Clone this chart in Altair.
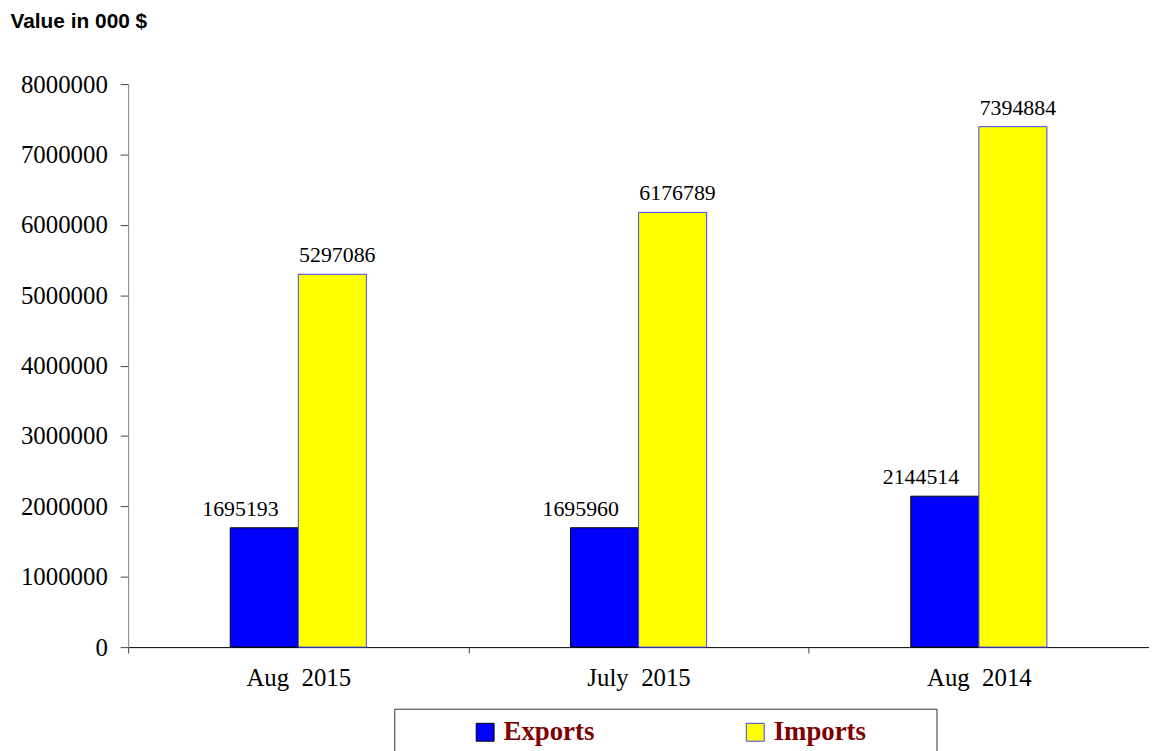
import altair as alt
import pandas as pd

categories = ["Aug 2015", "July 2015", "Aug 2014"]
series_names = ["Exports", "Imports"]
exports = [1695193, 1695960, 2144514]
imports = [5297086, 6176789, 7394884]
y_ticks = [0, 1000000, 2000000, 3000000, 4000000, 5000000, 6000000, 7000000, 8000000]

rows = []
for c, e, i in zip(categories, exports, imports):
    rows.append({"period": c, "series": "Exports", "value": e})
    rows.append({"period": c, "series": "Imports", "value": i})
df = pd.DataFrame(rows)

serif = "Liberation Serif"
sans = "Liberation Sans"

# trailing non-breaking spaces (closed by a zero-width char so they are not trimmed)
# widen the legend box on the right like the original
legend = alt.Legend(
    title=None, orient="none", legendX=268, legendY=629,
    direction="horizontal", columns=2,
    symbolType="square", symbolSize=324, symbolStrokeWidth=1, symbolStrokeColor="#000000",
    symbolOffset=68, labelOffset=5, columnPadding=80,
    labelFont=serif, labelFontSize=27, labelFontWeight="bold", labelColor="#800000",
    labelExpr="datum.label == 'Imports' ? datum.label + '" + "\u00a0" * 9 + "\u200b' : datum.label",
    padding=10, strokeColor="#333333", fillColor="white", labelLimit=400,
)

x = alt.X("period:N", sort=categories,
          scale=alt.Scale(paddingInner=0, paddingOuter=0),
          axis=alt.Axis(title=None, labelAngle=0, tickBand="extent", tickSize=6,
                        tickColor="#444444", domainColor="#000000",
                        labelFont=serif, labelFontSize=25, labelColor="#000000",
                        labelPadding=13,
                        labelExpr="replace(datum.label, ' ', '\u00a0 ')"))

y = alt.Y("value:Q",
          scale=alt.Scale(domain=[0, 8000000], nice=False),
          axis=alt.Axis(values=y_ticks, format="d", grid=False,
                        title="Value in 000 $", titleAngle=0, titleAlign="left",
                        titleBaseline="alphabetic", titleX=-119, titleY=-57,
                        titleFont=sans, titleFontSize=21, titleFontWeight="bold",
                        titleColor="#000000",
                        tickSize=8, tickColor="#444444", domainColor="#808080",
                        labelFont=serif, labelFontSize=25, labelColor="#000000",
                        labelPadding=13))

# two empty slots either side keep the pair of bars in the middle 40% of each period
offset_domain = ["left gap", "Exports", "Imports", "right gap"]
offset = alt.XOffset("series:N",
                     scale=alt.Scale(domain=offset_domain, paddingInner=0, paddingOuter=0.5))

bars = alt.Chart(df).mark_bar(strokeWidth=1).encode(
    x=x,
    xOffset=offset,
    y=y,
    fill=alt.Fill("series:N", sort=series_names,
                  scale=alt.Scale(domain=series_names, range=["#0000ff", "#ffff00"]),
                  legend=legend),
    stroke=alt.Stroke("series:N",
                      scale=alt.Scale(domain=series_names, range=["#000000", "#4040ff"]),
                      legend=None),
)

def labels(name, dx):
    return alt.Chart(df).transform_filter(alt.datum.series == name).mark_text(
        font=serif, fontSize=22, color="#000000", baseline="alphabetic", dy=-12, dx=dx
    ).encode(
        x=x,
        xOffset=offset,
        y=y,
        text=alt.Text("value:Q", format="d"),
    )

chart = alt.layer(bars, labels("Exports", -24), labels("Imports", 5)).properties(
    width=1028, height=567,
    autosize=alt.AutoSizeParams(type="none"),
    padding={"left": 121, "top": 74, "right": 0, "bottom": 102},
).configure_view(stroke=None)

chart.save("out.html", embed_options={"renderer": "svg", "actions": False})
